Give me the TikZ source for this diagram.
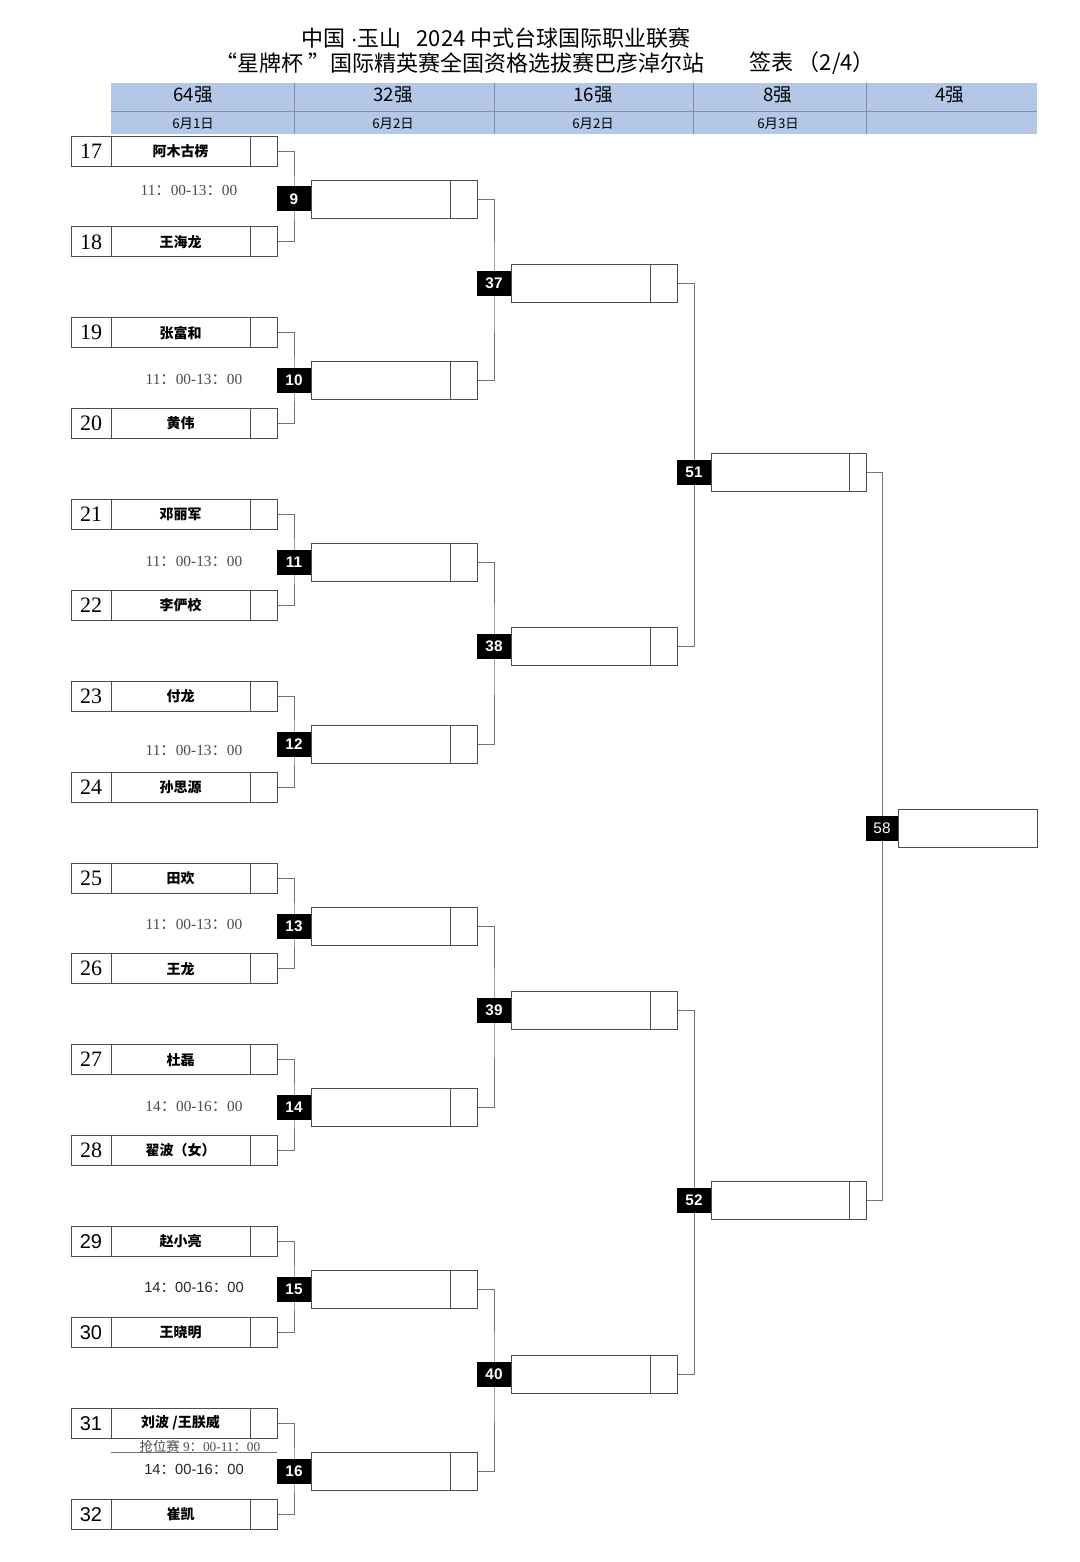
\documentclass[tikz,border=0pt]{standalone}
\usepackage{fontspec}
\setmainfont{Liberation Serif}
\newfontfamily\cjk{Noto Sans CJK SC}
\newfontfamily\sansf{Liberation Sans}
\newfontfamily\serf{Liberation Serif}
\usetikzlibrary{calc}
\pgfdeclarelayer{back}
\pgfdeclarelayer{bg}
\pgfsetlayers{back,bg,main}
\definecolor{hdrblue}{HTML}{B4C7E7}
\definecolor{hdrline}{HTML}{7F8FA9}
\newcommand\tc{{\cjk ：}}
\newcommand\plr[4]{%
  \node[numc,#4] (n#1) at (91,#2) {#1};
  \node[namec] (p#1) at (180.5,#2) {#3};
  \node[scorec] (s#1) at (263.5,#2) {};}
\tikzset{
  cellb/.style={draw=black!70, line width=0.7pt, inner sep=0pt, outer sep=0pt, minimum height=22.5pt},
  numc/.style={cellb, minimum width=30pt, font=\serf\fontsize{16.5}{16.5}\selectfont},
  numsans/.style={font=\sansf\fontsize{15}{15}\selectfont},
  namec/.style={cellb, minimum width=104.25pt, font=\cjk\bfseries\fontsize{10.5}{10.5}\selectfont},
  scorec/.style={cellb, minimum width=20.25pt},
  rmain/.style={cellb, minimum height=28.5pt, minimum width=104.25pt},
  rscore/.style={cellb, minimum height=28.5pt, minimum width=20.25pt},
  mlab/.style={fill=black, text=white, inner sep=0pt, outer sep=0pt, minimum width=25.5pt, minimum height=18.75pt, font=\sansf\bfseries\fontsize{11.5}{11.5}\selectfont},
  conn/.style={draw=black!55, line width=0.7pt},
  tserif/.style={text=black!70, font=\serf\fontsize{11.5}{11.5}\selectfont},
  tsans/.style={text=black!85, font=\sansf\fontsize{11}{11}\selectfont},
  hdrtxt/.style={font=\cjk\fontsize{14}{14}\selectfont},
  hdrdate/.style={font=\cjk\fontsize{10}{10}\selectfont},
  titlef/.style={font=\cjk\fontsize{16.5}{16.5}\selectfont},
}
\begin{document}
\begin{tikzpicture}[x=0.75pt,y=-0.75pt]
\begin{pgfonlayer}{back}
\fill[white] (0,0) rectangle (1080,1562);
\end{pgfonlayer}
\useasboundingbox (0,0) rectangle (1080,1562);
% title
\node[titlef] (t1) at (496,38) {中国 {\sansf\fontsize{16.5}{16.5}\selectfont ·}玉山 \ \ 2024 中式台球国际职业联赛};
\node[titlef] (t2) at (460,63) {“星牌杯 ”国际精英赛全国资格选拔赛巴彦淖尔站};
\node[titlef] (t3) at (812,63) {签表 （2/4）};
% header table
\fill[hdrblue] (111,83) rectangle (1037,134);
\draw[hdrline, line width=0.6pt] (111,111) -- (1037,111);
\foreach \x in {294,494,693,866} \draw[hdrline, line width=0.6pt] (\x,83) -- (\x,134);
\node[hdrtxt] (h1) at (193,95) {64强};
\node[hdrtxt] (h2) at (393,95) {32强};
\node[hdrtxt] (h3) at (593,95) {16强};
\node[hdrtxt] (h4) at (778,95) {8强};
\node[hdrtxt] (h5) at (950,95) {4强};
\node[hdrdate] (d1) at (193,124) {6月1日};
\node[hdrdate] (d2) at (393,124) {6月2日};
\node[hdrdate] (d3) at (593,124) {6月2日};
\node[hdrdate] (d4) at (778,124) {6月3日};
% players
\plr{17}{151}{阿木古楞}{}
\plr{18}{241.9}{王海龙}{}
\plr{19}{332.7}{张富和}{}
\plr{20}{423.6}{黄伟}{}
\plr{21}{514.5}{邓丽军}{}
\plr{22}{605.4}{李俨校}{}
\plr{23}{696.2}{付龙}{}
\plr{24}{787.1}{孙思源}{}
\plr{25}{878}{田欢}{}
\plr{26}{968.8}{王龙}{}
\plr{27}{1059.7}{杜磊}{}
\plr{28}{1150.6}{翟波（女）}{}
\plr{29}{1241.4}{赵小亮}{numsans}
\plr{30}{1332.3}{王晓明}{numsans}
\plr{31}{1423.2}{刘波 /王朕威}{numsans}
\plr{32}{1514.1}{崔凯}{numsans}
% round 2
\foreach \m/\y in {9/199,10/380.7,11/562.5,12/744.2,13/926,14/1107.7,15/1289.4,16/1471.2}{
  \node[rmain] (r\m) at (380.5,\y) {};
  \node[rscore] (rs\m) at (463.5,\y) {};
  \node[mlab] (m\m) at (294,\y) {\m};
}
% round 3
\foreach \m/\y in {37/283,38/646,39/1010,40/1374}{
  \node[rmain] (r\m) at (580.5,\y) {};
  \node[rscore] (rs\m) at (663.5,\y) {};
  \node[mlab] (m\m) at (494,\y) {\m};
}
% round 4
\foreach \m/\y in {51/472,52/1200}{
  \node[rmain, minimum width=103.5pt] (r\m) at (780,\y) {};
  \node[rscore, minimum width=12.75pt] (rs\m) at (857.5,\y) {};
  \node[mlab] (m\m) at (694,\y) {\m};
}
% round 5
\node[rmain] (r58) at (967.5,828) {};
\node[mlab, minimum width=24pt, font=\sansf\fontsize{11.5}{11.5}\selectfont] (m58) at (882,828) {58};
% connectors
\begin{pgfonlayer}{bg}
\foreach \a/\b/\m in {17/18/9,19/20/10,21/22/11,23/24/12,25/26/13,27/28/14,29/30/15,31/32/16}
  \draw[conn] (s\a.east) -| (m\m.center) |- (s\b.east);
\foreach \a/\b/\m in {9/10/37,11/12/38,13/14/39,15/16/40}
  \draw[conn] (rs\a.east) -| (m\m.center) |- (rs\b.east);
\foreach \a/\b/\m in {37/38/51,39/40/52}
  \draw[conn] (rs\a.east) -| (m\m.center) |- (rs\b.east);
\draw[conn] (rs51.east) -| (m58.center) |- (rs52.east);
\end{pgfonlayer}
% times
\node[tserif] (tm9) at (189,190) {11\tc00-13\tc00};
\node[tserif] (tm10) at (194,379) {11\tc00-13\tc00};
\node[tserif] (tm11) at (194,561) {11\tc00-13\tc00};
\node[tserif] (tm12) at (194,750) {11\tc00-13\tc00};
\node[tserif] (tm13) at (194,924) {11\tc00-13\tc00};
\node[tserif] (tm14) at (194,1106) {14\tc00-16\tc00};
\node[tsans] (tm15) at (194,1287) {14\tc00-16\tc00};
\node[tsans] (tm16) at (194,1469) {14\tc00-16\tc00};
\node[tserif, font=\serf\fontsize{10}{10}\selectfont] (qw) at (200,1446) {{\cjk 抢位赛} 9\tc00-11\tc00};
\coordinate (ql) at ($(p31.south west)+(0,14)$);
\coordinate (qr) at ($(s31.south east)+(0,14)$);
\draw[conn] (ql) -- (qr);
\end{tikzpicture}
\end{document}
